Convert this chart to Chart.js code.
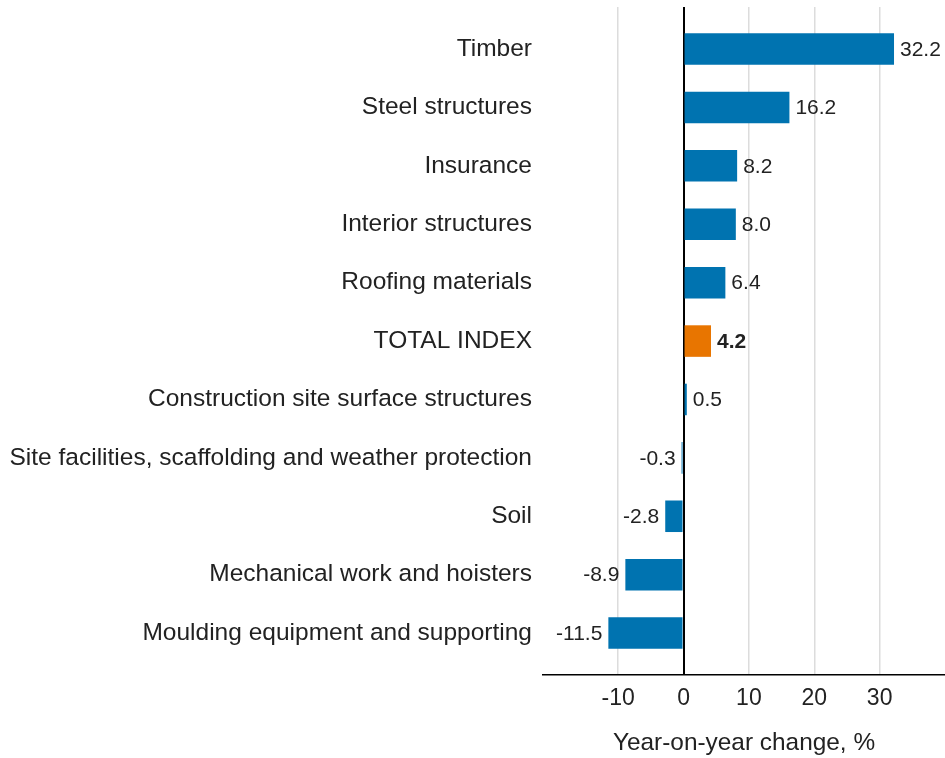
<!DOCTYPE html>
<html>
<head>
<meta charset="utf-8">
<script src="https://cdn.jsdelivr.net/npm/chart.js@4"></script>
<style>
  html, body { margin: 0; padding: 0; background: #fff; }
  #wrap { width: 945px; height: 758px; }
</style>
</head>
<body>
<div id="wrap"><canvas id="c" width="945" height="758"></canvas></div>
<script>
const categories = [
  "Timber",
  "Steel structures",
  "Insurance",
  "Interior structures",
  "Roofing materials",
  "TOTAL INDEX",
  "Construction site surface structures",
  "Site facilities, scaffolding and weather protection",
  "Soil",
  "Mechanical work and hoisters",
  "Moulding equipment and supporting"
];
const values = [32.2, 16.2, 8.2, 8.0, 6.4, 4.2, 0.5, -0.3, -2.8, -8.9, -11.5];
const xTicks = [-10, 0, 10, 20, 30];
const axisTitle = "Year-on-year change, %";
const highlight = "TOTAL INDEX";

const BLUE = "#0073b0";
const ORANGE = "#e87500";
const TEXT = "#222222";
const FONT = "'Liberation Sans', Arial, sans-serif";

const valueLabels = {
  id: 'valueLabels',
  afterDatasetsDraw(chart) {
    const ctx = chart.ctx;
    const meta = chart.getDatasetMeta(0);
    ctx.save();
    ctx.fillStyle = TEXT;
    ctx.textBaseline = 'middle';
    meta.data.forEach((bar, i) => {
      const v = values[i];
      const bold = categories[i] === highlight;
      ctx.font = (bold ? 'bold ' : '') + '21px ' + FONT;
      const txt = v.toFixed(1);
      if (v >= 0) {
        ctx.textAlign = 'left';
        ctx.fillText(txt, bar.x + 6, bar.y + 1);
      } else {
        ctx.textAlign = 'right';
        ctx.fillText(txt, bar.x - 6, bar.y + 1);
      }
    });
    ctx.restore();
  }
};

new Chart(document.getElementById('c'), {
  type: 'bar',
  data: {
    datasets: [{
      data: values.map((v, i) => ({ x: v, y: i })),
      backgroundColor: categories.map(c => c === highlight ? ORANGE : BLUE),
      borderWidth: 0,
      barPercentage: 0.54,
      categoryPercentage: 1
    }]
  },
  options: {
    indexAxis: 'y',
    responsive: false,
    animation: false,
    layout: { padding: { top: 7, right: 0, bottom: 0, left: 0 } },
    plugins: { legend: { display: false }, tooltip: { enabled: false } },
    scales: {
      x: {
        type: 'linear',
        min: -21.5,
        max: 40,
        afterBuildTicks(scale) { scale.ticks = xTicks.map(v => ({ value: v })); },
        grid: {
          drawTicks: false,
          color: ctx => (ctx.tick && ctx.tick.value === 0) ? '#000000' : '#dcdcdc',
          lineWidth: ctx => (ctx.tick && ctx.tick.value === 0) ? 2 : 1.5
        },
        border: { display: true, color: '#000000', width: 1.5 },
        ticks: { color: TEXT, font: { family: FONT, size: 23 }, padding: 10 },
        title: { display: true, text: axisTitle, color: TEXT, font: { family: FONT, size: 24.4 }, padding: { top: 6, bottom: 0 } },
        afterFit(scale) { scale.paddingLeft = 0; scale.paddingRight = 0; }
      },
      y: {
        type: 'linear',
        reverse: true,
        offset: false,
        min: -0.72,
        max: 10.72,
        afterBuildTicks(scale) { scale.ticks = categories.map((c, i) => ({ value: i })); },
        afterFit(scale) { scale.width = 543; scale.paddingTop = 0; scale.paddingBottom = 0; },
        grid: { display: false, drawTicks: false },
        border: { display: false },
        ticks: {
          color: TEXT,
          font: { family: FONT, size: 24.5 },
          padding: 11,
          autoSkip: false,
          callback: v => categories[v]
        }
      }
    }
  },
  plugins: [valueLabels]
});
</script>
</body>
</html>
